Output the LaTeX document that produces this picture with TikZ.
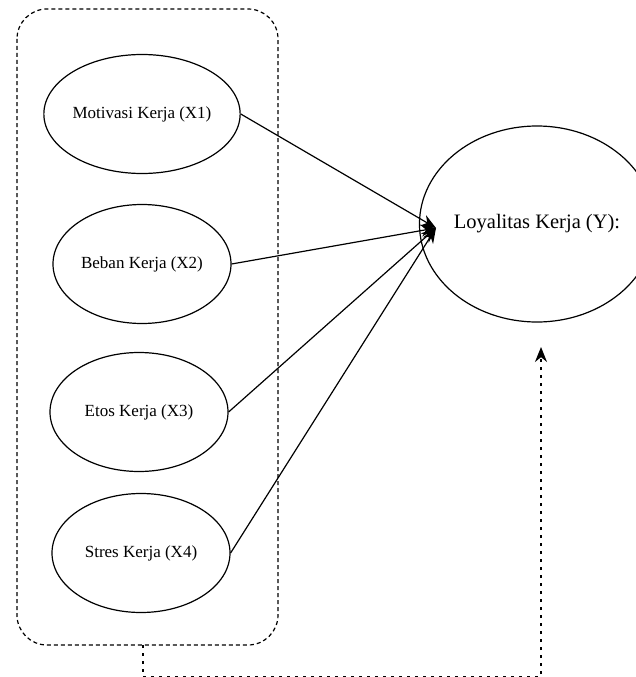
\documentclass[tikz,border=0pt]{standalone}
\usepackage{fontspec}
\setmainfont{Liberation Serif}
\usepackage{tikz}
\usetikzlibrary{arrows.meta,shapes.geometric}
\tikzset{
  var/.style={draw, ellipse, line width=1.2pt, inner sep=0pt,
              minimum width=178pt, minimum height=119pt,
              font=\fontsize{17}{20}\selectfont},
  target/.style={draw, ellipse, line width=1.2pt, inner sep=0pt,
                 minimum width=207pt, minimum height=196pt,
                 font=\fontsize{20.5}{24}\selectfont},
  flow/.style={-{Stealth[length=15pt,width=12pt]}, line width=1.2pt},
  group/.style={line width=1.2pt, dash pattern=on 4pt off 3pt, rounded corners=30pt},
  back/.style={-{Stealth[length=15pt,width=12pt]}, line width=1.4pt,
               dash pattern=on 3pt off 5pt}
}
\begin{document}
\begin{tikzpicture}[x=1pt,y=-1pt]
  \useasboundingbox (0,0) rectangle (636,677);
  % independent variables
  \node[var] (x1) at (142,114) {Motivasi Kerja (X1)};
  \node[var] (x2) at (142,264) {Beban Kerja (X2)};
  \node[var] (x3) at (139,412) {Etos Kerja (X3)};
  \node[var] (x4) at (141,553) {Stres Kerja (X4)};
  % dependent variable
  \node[target] (ly) at (537,224) {Loyalitas Kerja (Y):};
  % group box
  \draw[group] (17,9) rectangle (278,645);
  \coordinate (gb) at (143,645);
  \coordinate (c1) at (143,676.6);
  \coordinate (c2) at (541,676.6);
  \coordinate (c3) at (541,347);
  \coordinate (tip) at (436,228);
  \draw[flow] (x1.east) -- (tip);
  \draw[flow] (x2.east) -- (tip);
  \draw[flow] (x3.east) -- (tip);
  \draw[flow] (x4.east) -- (tip);
  \draw[back] (gb) -- (c1) -- (c2) -- (c3);
\end{tikzpicture}
\end{document}
